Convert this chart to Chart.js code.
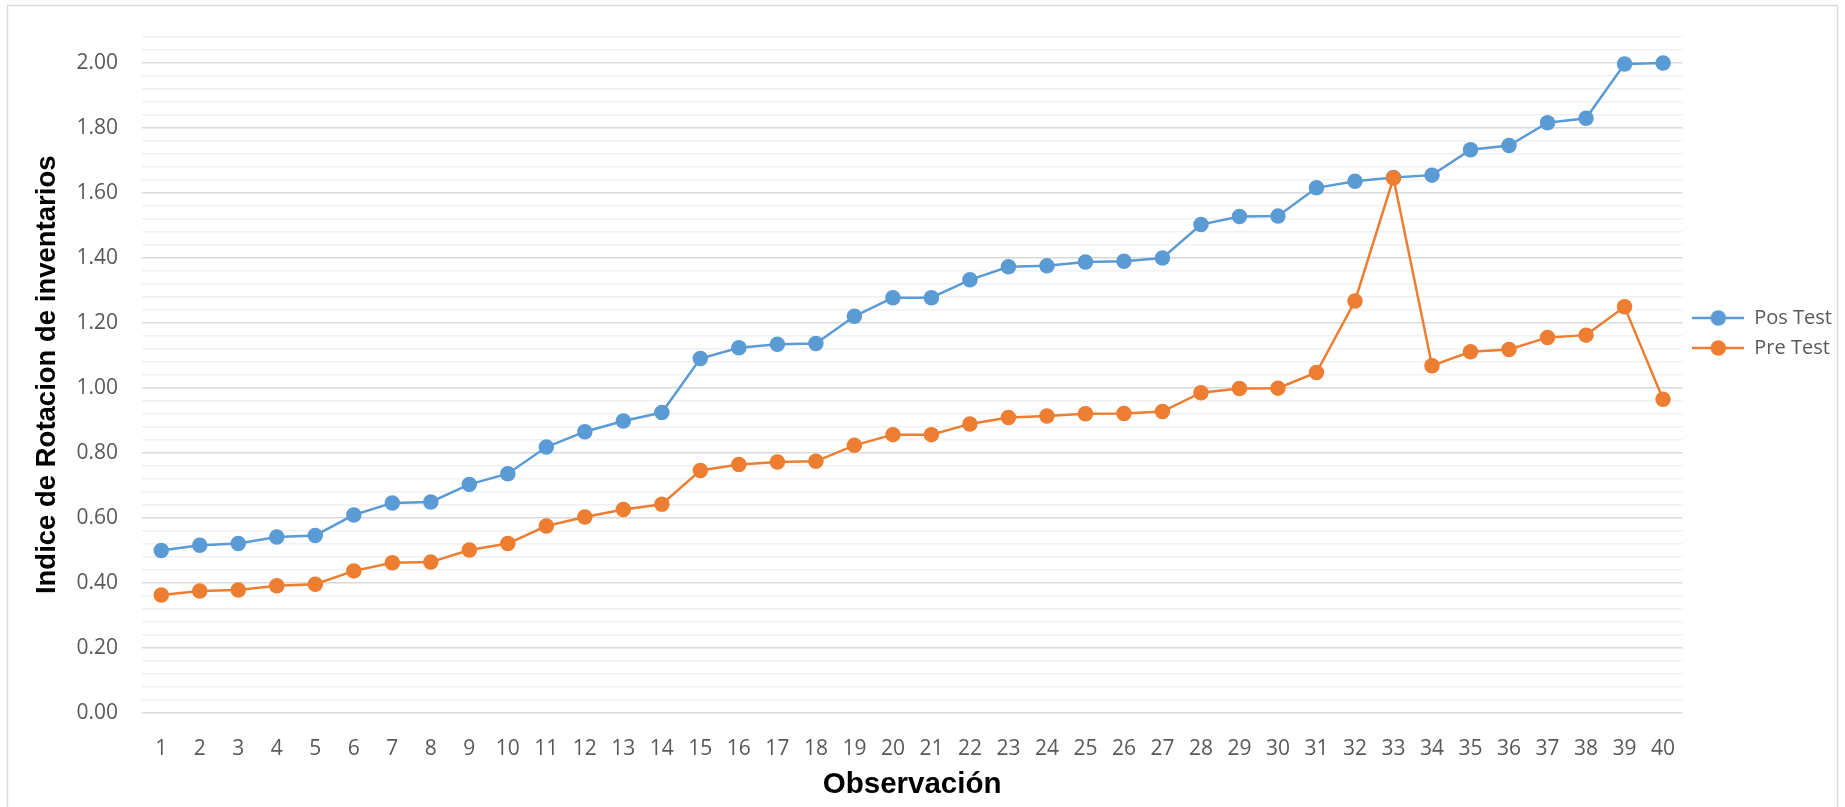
<!DOCTYPE html>
<html>
<head>
<meta charset="utf-8">
<script src="https://cdn.jsdelivr.net/npm/chart.js@4/dist/chart.umd.min.js"></script>
<style>
  html, body { margin: 0; padding: 0; background: #ffffff; overflow: hidden; }
  canvas { display: block; }
</style>
</head>
<body>
<canvas id="chart" width="1845" height="807"></canvas>
<script>
// Observation numbers (x categories)
const observaciones = ['1','2','3','4','5','6','7','8','9','10',
  '11','12','13','14','15','16','17','18','19','20',
  '21','22','23','24','25','26','27','28','29','30',
  '31','32','33','34','35','36','37','38','39','40'];

// Inventory rotation index after the improvement
const posTest = [0.500, 0.516, 0.521, 0.541, 0.546, 0.609, 0.646, 0.649, 0.703, 0.736,
  0.818, 0.865, 0.898, 0.924, 1.090, 1.123, 1.134, 1.136, 1.220, 1.277,
  1.277, 1.332, 1.372, 1.375, 1.387, 1.389, 1.399, 1.502, 1.527, 1.528,
  1.615, 1.635, 1.647, 1.654, 1.732, 1.745, 1.815, 1.829, 1.996, 1.999];

// Inventory rotation index before the improvement
const preTest = [0.363, 0.375, 0.378, 0.391, 0.396, 0.437, 0.462, 0.464, 0.501, 0.521,
  0.575, 0.603, 0.626, 0.642, 0.746, 0.764, 0.772, 0.774, 0.823, 0.856,
  0.856, 0.889, 0.909, 0.913, 0.920, 0.921, 0.927, 0.985, 0.998, 0.999,
  1.047, 1.267, 1.645, 1.068, 1.111, 1.118, 1.155, 1.162, 1.249, 0.965];

// Labelled (major) values of the vertical axis
const yTickLabels = ['0.00','0.20','0.40','0.60','0.80','1.00','1.20','1.40','1.60','1.80','2.00'];

const seriesNames = ['Pos Test', 'Pre Test'];
const colorPos = '#5B9BD5';
const colorPre = '#ED7D31';

const isMajor = v => yTickLabels.some(t => Math.abs(parseFloat(t) - v) < 1e-6);

// Legend symbol: short line with a round marker in the middle
function legendIcon(color) {
  const c = document.createElement('canvas');
  c.width = 52; c.height = 18;
  const g = c.getContext('2d');
  g.strokeStyle = color; g.lineWidth = 2.5;
  g.beginPath(); g.moveTo(0, 9); g.lineTo(52, 9); g.stroke();
  g.fillStyle = color;
  g.beginPath(); g.arc(26, 9, 7.75, 0, Math.PI * 2); g.fill();
  return c;
}

// Thin grey frame around the whole chart
const chartFrame = {
  id: 'chartFrame',
  beforeDraw(chart) {
    const ctx = chart.ctx;
    ctx.save();
    ctx.strokeStyle = '#d9d9d9';
    ctx.lineWidth = 1.5;
    ctx.strokeRect(7.5, 5.5, chart.width - 15, chart.height + 20);
    ctx.restore();
  }
};

const tickFont = { family: '"Open Sans", "Liberation Sans", sans-serif', size: 21 };
const titleFamily = '"Liberation Sans", Arial, sans-serif';

new Chart(document.getElementById('chart'), {
  type: 'line',
  data: {
    labels: observaciones,
    datasets: [
      {
        label: seriesNames[0],
        data: posTest,
        borderColor: colorPos,
        backgroundColor: colorPos,
        pointBackgroundColor: colorPos,
        borderWidth: 2.5,
        pointRadius: 7.75,
        pointBorderWidth: 0,
        tension: 0,
        order: 1
      },
      {
        label: seriesNames[1],
        data: preTest,
        borderColor: colorPre,
        backgroundColor: colorPre,
        pointBackgroundColor: colorPre,
        borderWidth: 2.5,
        pointRadius: 7.75,
        pointBorderWidth: 0,
        tension: 0,
        order: 0
      }
    ]
  },
  options: {
    responsive: false,
    animation: false,
    events: [],
    layout: { padding: { top: 35, left: 0, right: 3, bottom: 0 } },
    scales: {
      x: {
        type: 'category',
        offset: true,
        grid: { display: false },
        border: { display: false },
        ticks: {
          font: tickFont,
          color: '#595959',
          padding: 15,
          autoSkip: false,
          maxRotation: 0,
          minRotation: 0
        },
        title: {
          display: true,
          text: 'Observación',
          color: '#000000',
          font: { family: titleFamily, size: 29.5, weight: 'bold' },
          padding: { top: 0, bottom: 4 }
        },
        afterFit(scale) { scale.height = 94; }
      },
      y: {
        min: 0,
        max: 2.08,
        border: { display: false },
        grid: {
          drawTicks: false,
          lineWidth: 1.5,
          color: ctx => isMajor(ctx.tick.value) ? '#d9d9d9' : '#f1f1f1'
        },
        ticks: {
          stepSize: 0.04,
          autoSkip: false,
          font: tickFont,
          color: '#595959',
          padding: 24,
          callback: v => isMajor(v) ? Number(v).toFixed(2) : ''
        },
        title: {
          display: true,
          text: 'Indice de Rotacion de inventarios',
          color: '#000000',
          font: { family: titleFamily, size: 27.5, weight: 'bold' },
          padding: { top: 31, bottom: 0 }
        },
        afterFit(scale) { scale.width = 142; }
      }
    },
    plugins: {
      tooltip: { enabled: false },
      legend: {
        position: 'right',
        align: 'start',
        title: { display: true, text: '', font: { size: 10 }, padding: { top: 251, bottom: 0 } },
        labels: {
          usePointStyle: true,
          pointStyleWidth: 52,
          boxHeight: 20,
          padding: 10,
          color: '#595959',
          font: { family: '"Open Sans", "Liberation Sans", sans-serif', size: 20 },
          generateLabels(chart) {
            const items = Chart.defaults.plugins.legend.labels.generateLabels(chart);
            items.forEach(it => {
              it.pointStyle = legendIcon(chart.data.datasets[it.datasetIndex].borderColor);
            });
            return items.sort((a, b) => a.datasetIndex - b.datasetIndex);
          }
        }
      }
    }
  },
  plugins: [chartFrame]
});
</script>
</body>
</html>
